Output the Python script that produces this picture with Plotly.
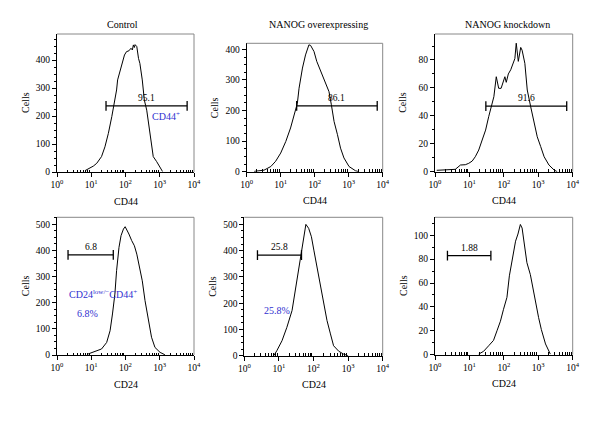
import numpy as np
import plotly.graph_objects as go

# ---------------- data (log10 of fluorescence intensity, cell counts) ----------------
ctrl_cd44_log = [0.82, 0.91, 1.06, 1.16, 1.30, 1.40, 1.50, 1.60, 1.67, 1.74, 1.77, 1.84, 1.89, 1.97, 2.03, 2.10, 2.16, 2.20, 2.23, 2.26, 2.28, 2.33, 2.38, 2.42, 2.49, 2.55, 2.62, 2.67, 2.75, 2.81, 2.91, 3.01, 3.08]
ctrl_cd44_cells = [5, 10, 21, 31, 55, 90, 138, 198, 245, 293, 329, 364, 388, 418, 430, 433, 442, 436, 454, 445, 455, 448, 406, 388, 329, 257, 221, 174, 114, 55, 37, 13, 2]

over_cd44_log = [0.22, 0.51, 0.71, 0.85, 1.00, 1.15, 1.29, 1.39, 1.49, 1.54, 1.64, 1.73, 1.83, 1.88, 1.98, 2.06, 2.18, 2.27, 2.42, 2.49, 2.57, 2.67, 2.76, 2.86, 3.01, 3.20, 3.30]
over_cd44_cells = [1, 5, 17, 34, 61, 99, 143, 186, 224, 273, 339, 382, 415, 413, 393, 361, 328, 301, 262, 219, 164, 121, 77, 45, 17, 3, 0]

kd_cd44_log = [0.05, 0.40, 0.59, 0.74, 0.88, 0.98, 1.08, 1.17, 1.27, 1.37, 1.47, 1.56, 1.66, 1.71, 1.78, 1.85, 1.92, 1.97, 2.03, 2.07, 2.13, 2.20, 2.26, 2.32, 2.36, 2.42, 2.49, 2.53, 2.61, 2.68, 2.78, 2.87, 2.97, 3.07, 3.17, 3.31, 3.46, 3.55]
kd_cd44_cells = [1, 1.2, 1.7, 4.8, 5, 6, 7.6, 10.7, 15.5, 22.7, 29.8, 39.4, 49, 53.7, 68, 59.7, 59.7, 63, 68, 64, 70, 73, 77.6, 81, 92, 79, 89, 87, 77.6, 58.5, 46.5, 37, 25, 18, 10.7, 4.8, 1.2, 0]

ctrl_cd24_log = [0.91, 1.11, 1.30, 1.45, 1.55, 1.62, 1.69, 1.74, 1.81, 1.87, 1.94, 1.99, 2.03, 2.10, 2.18, 2.26, 2.33, 2.42, 2.49, 2.57, 2.67, 2.76, 2.86, 3.01, 3.15]
ctrl_cd24_cells = [4, 14, 23, 48, 93, 157, 233, 323, 412, 457, 482, 491, 482, 463, 438, 418, 386, 335, 284, 208, 131, 68, 29, 10, 1]

over_cd24_log = [0.85, 0.94, 1.09, 1.23, 1.38, 1.47, 1.57, 1.67, 1.72, 1.78, 1.86, 1.94, 2.01, 2.10, 2.20, 2.29, 2.39, 2.49, 2.58, 2.73, 2.87, 3.00]
over_cd24_cells = [0, 19, 57, 108, 172, 249, 325, 402, 453, 500, 485, 453, 402, 338, 262, 198, 134, 83, 38, 17, 6, 0]

kd_cd24_log = [1.27, 1.41, 1.56, 1.70, 1.80, 1.90, 1.99, 2.09, 2.16, 2.24, 2.29, 2.34, 2.41, 2.48, 2.53, 2.61, 2.67, 2.77, 2.82, 2.90, 2.96, 3.01, 3.09, 3.21, 3.35]
kd_cd24_cells = [0.5, 2.8, 7.5, 12, 20, 28, 38, 48, 66, 79, 90, 95, 101, 109, 106, 90, 77, 67, 59, 48, 40, 31, 21, 9, 0.5]

column_titles = ["Control", "NANOG overexpressing", "NANOG knockdown"]
row_markers = ["CD44", "CD24"]

# gates: (left, right, y, label)
gate_left = [27, 29.5, 30, 2.1, 2.4, 2.3]
gate_right = [6300, 6900, 6700, 44, 45, 42]
gate_y = [236, 215, 47, 383, 383, 83]
gate_labels = ["95.1", "86.1", "91.6", "6.8", "25.8", "1.88"]

y_max = [493, 420, 98.6, 527, 527, 115]
y_major = [100, 100, 20, 100, 100, 20]
y_minor = [25, 25, 10, 25, 25, 10]

x_tick_vals = [1, 10, 100, 1000, 10000]
x_tick_text = ["10<sup>0</sup>", "10<sup>1</sup>", "10<sup>2</sup>", "10<sup>3</sup>", "10<sup>4</sup>"]

curves_log = [ctrl_cd44_log, over_cd44_log, kd_cd44_log, ctrl_cd24_log, over_cd24_log, kd_cd24_log]
curves_cells = [ctrl_cd44_cells, over_cd44_cells, kd_cd44_cells, ctrl_cd24_cells, over_cd24_cells, kd_cd24_cells]

# ---------------- layout (pixel boxes) ----------------
W, H = 600, 421
boxes = [  # left, right, top, bottom in pixels
    (57, 194, 34, 172),
    (246.7, 382.7, 43.3, 171.7),
    (435, 572.7, 34, 171.7),
    (57, 194, 217.3, 355),
    (244.3, 382.7, 217.3, 355.7),
    (435, 572.7, 217.3, 354.7),
]

FONT = "Liberation Serif"
BLUE = "#3030d0"

fig = go.Figure()
layout = dict(
    width=W, height=H, margin=dict(l=0, r=0, t=0, b=0, pad=0, autoexpand=False),
    paper_bgcolor="white", plot_bgcolor="white", showlegend=False,
    font=dict(family=FONT, size=9, color="black"),
)

minor_x = [m * 10 ** k for k in range(4) for m in range(2, 10)]


def ann(**kw):
    d = dict(showarrow=False, xanchor="center", yanchor="middle")
    d.update(kw)
    return d


annotations = []
shapes = []
for i, (l, r, t, b) in enumerate(boxes):
    xa = "xaxis" if i == 0 else f"xaxis{i+1}"
    ya = "yaxis" if i == 0 else f"yaxis{i+1}"
    xr = "x" if i == 0 else f"x{i+1}"
    yr = "y" if i == 0 else f"y{i+1}"
    layout[xa] = dict(
        domain=[l / W, r / W], anchor=yr, type="log", range=[0, 4],
        tickmode="array", tickvals=x_tick_vals, ticktext=x_tick_text,
        ticks="outside", ticklen=4, tickwidth=1, tickcolor="black",
        showline=True, linecolor="black", linewidth=1, showgrid=False, zeroline=False,
        tickfont=dict(family=FONT, size=9.5), automargin=False,
        minor=dict(tickmode="array", tickvals=minor_x, ticks="inside", ticklen=2.5,
                   tickcolor="black", showgrid=False),
        fixedrange=True,
    )
    layout[ya] = dict(
        domain=[1 - b / H, 1 - t / H], anchor=xr, range=[0, y_max[i]],
        tickmode="linear", tick0=0, dtick=y_major[i],
        ticks="outside", ticklen=4, tickwidth=1, tickcolor="black",
        showline=True, linecolor="black", linewidth=1, showgrid=False, zeroline=False,
        tickfont=dict(family=FONT, size=9.5), automargin=False,
        minor=dict(dtick=y_minor[i], ticks="outside", ticklen=2, tickcolor="black", showgrid=False),
        fixedrange=True,
    )
    # grey top / right frame
    shapes.append(dict(type="line", xref=f"{xr} domain", yref=f"{yr} domain",
                       x0=0, x1=1, y0=1, y1=1, line=dict(color="#888", width=1)))
    shapes.append(dict(type="line", xref=f"{xr} domain", yref=f"{yr} domain",
                       x0=1, x1=1, y0=0, y1=1, line=dict(color="#888", width=1)))

    # histogram curve
    xs = [10 ** v for v in curves_log[i]]
    fig.add_trace(go.Scatter(x=xs, y=curves_cells[i], mode="lines",
                             line=dict(color="black", width=1), xaxis=xr, yaxis=yr,
                             hoverinfo="skip"))
    # gate bar
    fig.add_trace(go.Scatter(x=[gate_left[i], gate_right[i]], y=[gate_y[i], gate_y[i]],
                             mode="lines+markers", line=dict(color="black", width=1.3),
                             marker=dict(symbol="line-ns", size=7,
                                         line=dict(color="black", width=1.3)),
                             xaxis=xr, yaxis=yr, hoverinfo="skip"))
    gx = (np.log10(gate_left[i]) + np.log10(gate_right[i])) / 2
    annotations.append(ann(x=gx, y=gate_y[i], xref=xr, yref=yr,
                           text=gate_labels[i], yshift=8,
                           font=dict(family=FONT, size=9.5, color="black")))
    # Cells label
    annotations.append(ann(x=(l - 32) / W, y=1 - ((t + b) / 2) / H, xref="paper", yref="paper",
                           text="Cells", textangle=-90,
                           font=dict(family=FONT, size=10, color="black")))
    # x-axis title
    row = 0 if i < 3 else 1
    annotations.append(ann(x=((l + r) / 2) / W, y=1 - (b + 29) / H, xref="paper", yref="paper",
                           text=row_markers[row],
                           font=dict(family=FONT, size=10, color="black")))

# column titles
title_x = [122, 318, 507]
for cx, txt in zip(title_x, column_titles):
    annotations.append(ann(x=cx / W, y=1 - 25 / H, xref="paper", yref="paper",
                           text=txt, font=dict(family=FONT, size=10, color="black")))

# blue labels
annotations.append(ann(x=3.18, y=200, xref="x", yref="y", text="CD44<sup>+</sup>",
                       font=dict(family=FONT, size=10, color=BLUE)))
annotations.append(ann(x=1.34, y=232, xref="x4", yref="y4",
                       text="CD24<sup>low/−</sup>CD44<sup>+</sup>",
                       font=dict(family=FONT, size=10, color=BLUE)))
annotations.append(ann(x=0.88, y=157, xref="x4", yref="y4", text="6.8%",
                       font=dict(family=FONT, size=10, color=BLUE)))
annotations.append(ann(x=0.94, y=171, xref="x5", yref="y5", text="25.8%",
                       font=dict(family=FONT, size=10, color=BLUE)))

layout["annotations"] = annotations
layout["shapes"] = shapes
fig.update_layout(**layout)
fig.write_html("out.html", config={"displayModeBar": False},
               post_script="document.body.style.margin='0px';")
